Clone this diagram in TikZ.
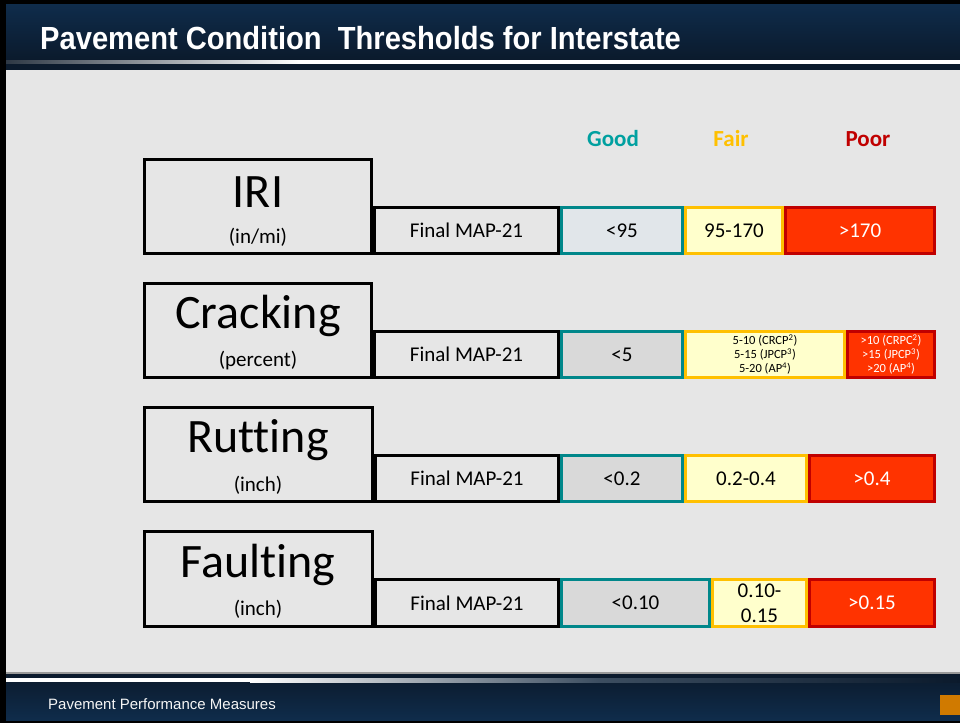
\documentclass[tikz,border=0pt]{standalone}
\usepackage{fontspec}
\setmainfont[Ligatures={NoCommon,NoRare,NoDiscretionary}]{Carlito}
\newfontfamily\titlefont[FakeStretch=0.91]{Liberation Sans}
\newfontfamily\footfont{Liberation Sans}
\definecolor{bgc}{HTML}{E6E6E6}
\definecolor{navytop}{HTML}{0F2C4B}
\definecolor{navybot}{HTML}{0B1A2C}
\definecolor{goodc}{HTML}{00878A}
\definecolor{goodtxt}{HTML}{00A0A0}
\definecolor{goodfill}{HTML}{D9D9D9}
\definecolor{goodfillb}{HTML}{E1E6EA}
\definecolor{fairc}{HTML}{FFC000}
\definecolor{fairfill}{HTML}{FFFFCC}
\definecolor{poorc}{HTML}{C00000}
\definecolor{poorfill}{HTML}{FF3300}
\definecolor{orangesq}{HTML}{D07A00}
\newcommand\cell[7]{\node[#6, minimum width={#4pt-#2pt-3pt}, minimum height={#5pt-#3pt-3pt}] (#1) at ({(#2+#4)/2},{(#3+#5)/2}) {#7};}
\begin{document}
\begin{tikzpicture}[x=1pt,y=-1pt,
  cellbase/.style={line width=3pt, inner sep=0pt, align=center, font=\fontsize{21}{25}\selectfont},
  bigbox/.style={cellbase, draw=black, fill=bgc},
  mapbox/.style={cellbase, draw=black, fill=bgc},
  goodbox/.style={cellbase, draw=goodc, fill=goodfill},
  fairbox/.style={cellbase, draw=fairc, fill=fairfill},
  poorbox/.style={cellbase, draw=poorc, fill=poorfill, text=white},
  biglabel/.style={font=\fontsize{48}{50}\selectfont, inner sep=0pt},
  unitlabel/.style={font=\fontsize{21}{24}\selectfont, inner sep=0pt},
  header/.style={font=\fontsize{23}{26}\selectfont\bfseries, inner sep=0pt},
  tiny/.style={font=\fontsize{12.5}{14}\selectfont}
]
\useasboundingbox (0,0) rectangle (960,723);
% frame and background
\fill[black] (0,0) rectangle (960,723);
\fill[bgc] (6,70) rectangle (960,673);
% title band
\shade[top color=navytop, bottom color=navybot] (6,4) rectangle (960,60);
\shade[left color=navybot!70!gray, right color=white] (6,60) rectangle (300,64);
\fill[white] (300,60) rectangle (960,64);
\fill[navybot] (6,64) rectangle (960,70);
\node[anchor=base west, text=white, inner sep=0pt, font=\titlefont\bfseries\fontsize{32}{34}\selectfont] (title) at (40,49) {Pavement Condition\ \ Thresholds for Interstate};
% footer
\fill[gray!80] (6,672) rectangle (960,674);
\shade[top color=navybot, bottom color=navytop] (6,674) rectangle (960,720);
\fill[white] (6,678) rectangle (250,682);
\shade[left color=white, right color=navytop!60!gray] (250,678) rectangle (600,682);
\shade[left color=navytop!60!gray, right color=navybot] (600,678) rectangle (960,682);
\node[anchor=base west, text=white!92!gray, inner sep=0pt, font=\footfont\fontsize{15}{17}\selectfont] (foot) at (48,709) {Pavement Performance Measures};
\fill[orangesq] (940,695) rectangle (960,715);
% headers
\node[header, text=goodtxt] (hgood) at (613,139) {Good};
\node[header, text=fairc] (hfair) at (731,139) {Fair};
\node[header, text=poorc] (hpoor) at (868,139) {Poor};
% Row 1: IRI
\cell{map1}{373}{206}{560}{255}{mapbox}{Final MAP-21}
\cell{big1}{143}{158}{373}{255}{bigbox}{}
\node[biglabel] (l1) at (258,192) {IRI};
\node[unitlabel] (u1) at (258,237) {(in/mi)};
\cell{good1}{560}{206}{684}{255}{goodbox, fill=goodfillb}{<95}
\cell{fair1}{684}{206}{784}{255}{fairbox}{95-170}
\cell{poor1}{784}{206}{936}{255}{poorbox}{>170}
% Row 2: Cracking
\cell{map2}{373}{330}{560}{379}{mapbox}{Final MAP-21}
\cell{big2}{143}{282}{373}{379}{bigbox}{}
\node[biglabel] (l2) at (258,316) {Cracking};
\node[unitlabel] (u2) at (258,361) {(percent)};
\cell{good2}{560}{330}{684}{379}{goodbox}{<5}
\cell{fair2}{684}{330}{846}{379}{fairbox, tiny}{5-10 (CRCP\textsuperscript{2})\\5-15 (JPCP\textsuperscript{3})\\5-20 (AP\textsuperscript{4})}
\cell{poor2}{846}{330}{936}{379}{poorbox, tiny}{>10 (CRPC\textsuperscript{2})\\>15 (JPCP\textsuperscript{3})\\>20 (AP\textsuperscript{4})}
% Row 3: Rutting
\cell{map3}{374}{454}{560}{503}{mapbox}{Final MAP-21}
\cell{big3}{143}{406}{374}{503}{bigbox}{}
\node[biglabel] (l3) at (258,440) {Rutting};
\node[unitlabel] (u3) at (258,485) {(inch)};
\cell{good3}{560}{454}{684}{503}{goodbox}{<0.2}
\cell{fair3}{684}{454}{808}{503}{fairbox}{0.2-0.4}
\cell{poor3}{808}{454}{936}{503}{poorbox}{>0.4}
% Row 4: Faulting
\cell{map4}{374}{578}{560}{628}{mapbox}{Final MAP-21}
\cell{big4}{143}{530}{374}{628}{bigbox}{}
\node[biglabel] (l4) at (258,565) {Faulting};
\node[unitlabel] (u4) at (258,609) {(inch)};
\cell{good4}{560}{578}{711}{628}{goodbox}{<0.10}
\cell{fair4}{711}{578}{808}{628}{fairbox, font=\fontsize{21}{25}\selectfont}{0.10-\\0.15}
\cell{poor4}{808}{578}{936}{628}{poorbox}{>0.15}
\end{tikzpicture}
\end{document}
